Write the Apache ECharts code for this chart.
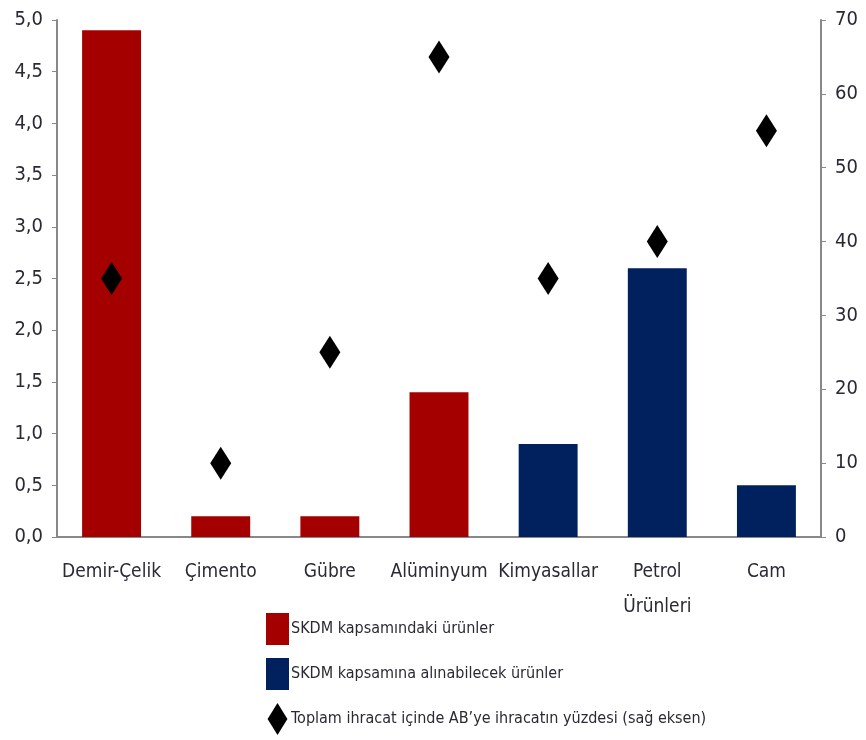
<!DOCTYPE html>
<html><head><meta charset="utf-8">
<script src="https://cdn.jsdelivr.net/npm/echarts@6/dist/echarts.min.js"></script>
<style>html,body{margin:0;padding:0;background:#fff}#c{width:866px;height:740px}</style>
</head><body><div id="c"></div>
<script>
const categories = ['Demir-Çelik','Çimento','Gübre','Alüminyum','Kimyasallar','Petrol\nÜrünleri','Cam'];
const skdmValues = [4.9, 0.2, 0.2, 1.4, '-', '-', '-'];
const potentialValues = ['-', '-', '-', '-', 0.9, 2.6, 0.5];
const euShare = [35, 10, 25, 65, 35, 40, 55];
const leftTicks = ['0,0','0,5','1,0','1,5','2,0','2,5','3,0','3,5','4,0','4,5','5,0'];
const names = ['SKDM kapsamındaki ürünler','SKDM kapsamına alınabilecek ürünler','Toplam ihracat içinde AB\u2019ye ihracatın yüzdesi (sağ eksen)'];

const font = '"DejaVu Sans Condensed", sans-serif';
const txt = '#2a2a35';
const diamond = 'path://M0,-1 L0.62,0 L0,1 L-0.62,0 Z';
const chart = echarts.init(document.getElementById('c'));
chart.setOption({
  animation: false,
  textStyle: {fontFamily: font},
  grid: {left: 57, right: 45, top: 20, bottom: 203},
  legend: {
    orient: 'vertical', left: 261, top: 608, height: 140, itemGap: 13,
    itemWidth: 23, itemHeight: 32,
    textStyle: {fontFamily: font, fontSize: 16, color: txt, padding: [0,0,0,-3]},
    data: [
      {name: names[0], icon: 'rect'},
      {name: names[1], icon: 'rect'},
      {name: names[2], icon: diamond}
    ]
  },
  xAxis: {
    type: 'category', data: categories,
    axisLine: {lineStyle: {color: '#888', width: 2}},
    axisTick: {show: false},
    axisLabel: {color: txt, fontSize: 19, margin: 18, lineHeight: 35, interval: 0, fontFamily: font}
  },
  yAxis: [
    {type: 'value', min: 0, max: 5, interval: 0.5,
     splitLine: {show: false},
     axisLine: {show: true, lineStyle: {color: '#888', width: 2}},
     axisTick: {show: true, length: 5, lineStyle: {color: '#888'}},
     axisLabel: {color: txt, fontSize: 20, margin: 14, fontFamily: font, formatter: (v) => leftTicks[Math.round(v*2)]}
    },
    {type: 'value', min: 0, max: 70, interval: 10,
     splitLine: {show: false},
     axisLine: {show: true, lineStyle: {color: '#888', width: 2}},
     axisTick: {show: true, length: 5, lineStyle: {color: '#888'}},
     axisLabel: {color: txt, fontSize: 20, margin: 14, fontFamily: font}
    }
  ],
  series: [
    {name: names[0], type: 'bar', data: skdmValues, barWidth: '54%', barGap: '-100%',
     itemStyle: {color: '#A40000'}},
    {name: names[1], type: 'bar', data: potentialValues, barWidth: '54%', barGap: '-100%',
     itemStyle: {color: '#00205E'}},
    {name: names[2], type: 'scatter', yAxisIndex: 1, data: euShare,
     symbol: diamond, symbolSize: [21, 33],
     itemStyle: {color: '#000', opacity: 1}}
  ]
});
</script></body></html>
